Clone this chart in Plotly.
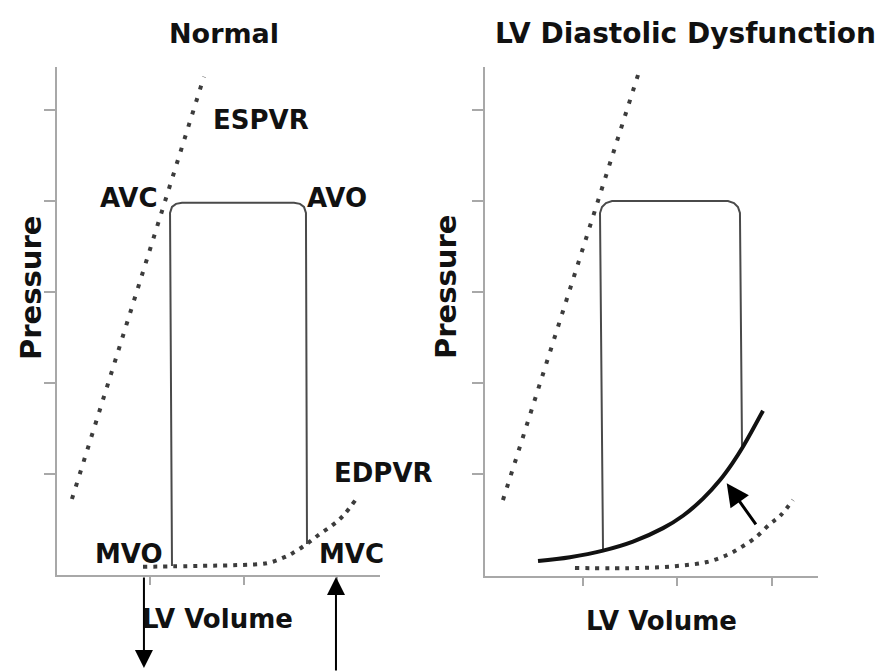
import plotly.graph_objects as go
from plotly.subplots import make_subplots

W, H = 879, 672

# ---- left panel: normal heart ----
NORM_ESPVR_V = [0.16, 1.572]
NORM_ESPVR_P = [0.725, 5.363]

NORM_EDPVR_V = [0.92, 1.53, 1.96, 2.25, 2.42, 2.52, 2.67, 2.81, 2.95, 3.06, 3.19]
NORM_EDPVR_P = [-0.02, -0.01, 0.0, 0.02, 0.08, 0.13, 0.23, 0.34, 0.44, 0.54, 0.71]

NORM_LOOP_V = [1.230, 1.209, 1.230, 1.273, 1.337, 2.535, 2.599, 2.642, 2.663, 2.674]
NORM_LOOP_P = [-0.011, 3.868, 3.934, 3.967, 3.978, 3.978, 3.967, 3.934, 3.868, 0.231]

# ---- right panel: LV diastolic dysfunction ----
DD_ESPVR_V = [0.153, 1.582]
DD_ESPVR_P = [0.714, 5.385]

DD_OLD_EDPVR_V = [0.915, 1.603, 1.995, 2.312, 2.524, 2.661, 2.820, 2.979, 3.085, 3.222]
DD_OLD_EDPVR_P = [-0.033, -0.033, -0.011, 0.033, 0.110, 0.187, 0.297, 0.451, 0.538, 0.714]

DD_NEW_EDPVR_V = [0.524, 0.862, 1.212, 1.529, 1.847, 2.058, 2.270, 2.450, 2.577, 2.693, 2.905]
DD_NEW_EDPVR_P = [0.044, 0.086, 0.158, 0.257, 0.405, 0.541, 0.729, 0.934, 1.112, 1.299, 1.695]

DD_LOOP_V = [1.212, 1.180, 1.201, 1.243, 1.307, 2.534, 2.598, 2.640, 2.661, 2.683]
DD_LOOP_P = [0.158, 3.868, 3.934, 3.978, 4.000, 4.000, 3.978, 3.934, 3.868, 1.290]

X_TICKS = [1, 2, 3]
Y_TICKS = [1, 2, 3, 4, 5]

AXIS_GRAY = "#a8a8a8"
LOOP_GRAY = "#4a4a4a"
DOT_GRAY = "#3c3c3c"
FONT = "DejaVu Sans"
DOTS_STEEP = "4px,9px"
DOTS_FLAT = "4px,6px"


def label(fig, text, x, y, xref="paper", yref="paper", size=26, angle=0):
    fig.add_annotation(
        text=text, x=x, y=y, xref=xref, yref=yref, showarrow=False,
        xanchor="center", yanchor="middle", textangle=angle,
        font=dict(family=FONT, size=size, color="#111111", weight="bold"),
    )


def volume_arrow(fig, x, tip_y, ay):
    # arrows hanging below the volume axis, tip given in paper coords
    fig.add_annotation(
        x=x, y=tip_y, xref="x", yref="paper", axref="pixel", ayref="pixel",
        ax=0, ay=ay, text="", showarrow=True, arrowhead=2, arrowsize=1.8,
        arrowwidth=2, arrowcolor="#000000", standoff=0,
    )


fig = make_subplots(rows=1, cols=2)

# left panel traces
fig.add_trace(go.Scatter(x=NORM_ESPVR_V, y=NORM_ESPVR_P, mode="lines",
                         line=dict(color=DOT_GRAY, width=4, dash=DOTS_STEEP)), row=1, col=1)
fig.add_trace(go.Scatter(x=NORM_EDPVR_V, y=NORM_EDPVR_P, mode="lines",
                         line=dict(color=DOT_GRAY, width=4, dash=DOTS_FLAT, shape="spline")), row=1, col=1)
fig.add_trace(go.Scatter(x=NORM_LOOP_V, y=NORM_LOOP_P, mode="lines",
                         line=dict(color=LOOP_GRAY, width=2)), row=1, col=1)

# right panel traces
fig.add_trace(go.Scatter(x=DD_ESPVR_V, y=DD_ESPVR_P, mode="lines",
                         line=dict(color=DOT_GRAY, width=4, dash=DOTS_STEEP)), row=1, col=2)
fig.add_trace(go.Scatter(x=DD_OLD_EDPVR_V, y=DD_OLD_EDPVR_P, mode="lines",
                         line=dict(color=DOT_GRAY, width=4, dash=DOTS_FLAT, shape="spline")), row=1, col=2)
fig.add_trace(go.Scatter(x=DD_LOOP_V, y=DD_LOOP_P, mode="lines",
                         line=dict(color=LOOP_GRAY, width=2)), row=1, col=2)
fig.add_trace(go.Scatter(x=DD_NEW_EDPVR_V, y=DD_NEW_EDPVR_P, mode="lines",
                         line=dict(color="#111111", width=4, shape="spline")), row=1, col=2)

axis_common = dict(showline=True, linecolor=AXIS_GRAY, linewidth=2, ticks="outside",
                   tickcolor=AXIS_GRAY, tickwidth=2, showticklabels=False,
                   showgrid=False, zeroline=False, fixedrange=True)

fig.update_xaxes(axis_common, tickvals=X_TICKS, ticklen=8)
fig.update_yaxes(axis_common, tickvals=Y_TICKS, ticklen=11)

fig.update_xaxes(domain=[57 / W, 380 / W], range=[0, 3.455], row=1, col=1)
fig.update_yaxes(domain=[1 - 575 / H, 1 - 67 / H], range=[-0.11, 5.47], row=1, col=1)
fig.update_xaxes(domain=[485 / W, 818 / W], range=[-0.037, 3.487], row=1, col=2)
fig.update_yaxes(domain=[1 - 576 / H, 1 - 67 / H], range=[-0.121, 5.473], row=1, col=2)

# titles and axis names
label(fig, "Normal", 224 / W, 1 - 33 / H, size=27)
label(fig, "LV Diastolic Dysfunction", 685 / W, 1 - 33 / H, size=28)
label(fig, "LV Volume", 217 / W, 1 - 619 / H)
label(fig, "LV Volume", 661 / W, 1 - 621 / H)
label(fig, "Pressure", 31 / W, 1 - 288 / H, size=29, angle=-90)
label(fig, "Pressure", 446 / W, 1 - 287 / H, size=29, angle=-90)

# point labels, left panel
label(fig, "ESPVR", 2.187, 4.89, "x", "y")
label(fig, "AVC", 0.77, 4.03, "x", "y")
label(fig, "AVO", 3.0, 4.03, "x", "y")
label(fig, "EDPVR", 383.5 / W, 1 - 473 / H)
label(fig, "MVO", 0.77, 0.12, "x", "y")
label(fig, "MVC", 3.155, 0.12, "x", "y")

# valve arrows below the volume axis
volume_arrow(fig, 0.93, 1 - 668 / H, -92)
volume_arrow(fig, 2.984, 1 - 577 / H, 100)

# shift of the EDPVR in diastolic dysfunction
fig.add_annotation(
    x=2.521, y=0.898, ax=2.841, ay=0.429, xref="x2", yref="y2", axref="x2", ayref="y2",
    text="", showarrow=True, arrowhead=2, arrowsize=1.5, arrowwidth=3,
    arrowcolor="#000000", standoff=0,
)

fig.update_layout(
    width=W, height=H,
    margin=dict(l=0, r=0, t=0, b=0),
    paper_bgcolor="white", plot_bgcolor="white",
    showlegend=False,
)

fig.write_html("out.html", config={"displayModeBar": False},
               post_script="document.body.style.margin='0';")
